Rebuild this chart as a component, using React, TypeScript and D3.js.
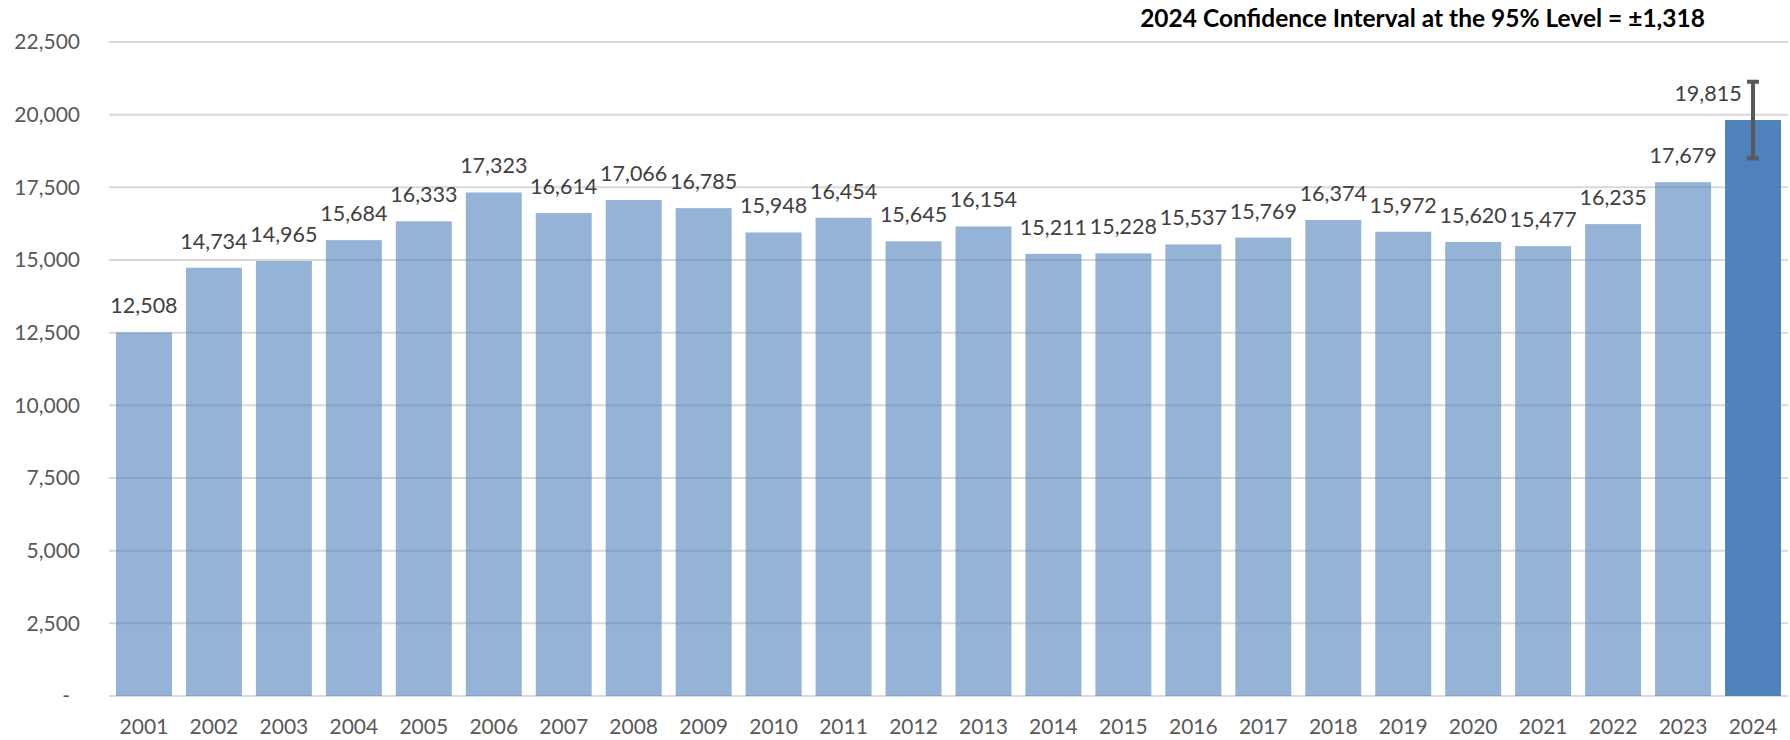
import React, { useRef, useEffect } from 'react';
import * as d3 from 'd3';

const years: string[] = [
  '2001', '2002', '2003', '2004', '2005', '2006', '2007', '2008', '2009', '2010', '2011', '2012',
  '2013', '2014', '2015', '2016', '2017', '2018', '2019', '2020', '2021', '2022', '2023', '2024',
];
const counts: number[] = [
  12508, 14734, 14965, 15684, 16333, 17323, 16614, 17066, 16785, 15948, 16454, 15645,
  16154, 15211, 15228, 15537, 15769, 16374, 15972, 15620, 15477, 16235, 17679, 19815,
];
const yTicks: number[] = [0, 2500, 5000, 7500, 10000, 12500, 15000, 17500, 20000, 22500];
const ciYear = '2024';
const ciHalfWidth = 1318;
const titleText = '2024 Confidence Interval at the 95% Level = \u00B11,318';

const W = 1790;
const H = 740;
const FONT = 'Lato, "Open Sans", sans-serif';

const App: React.FC = () => {
  const svgRef = useRef<SVGSVGElement | null>(null);

  useEffect(() => {
    document.body.style.margin = '0';
    const svg = d3.select(svgRef.current);
    svg.selectAll('*').remove();

    const left = 109;
    const right = 1788;
    const top = 42;
    const bottom = 696;

    const x = d3.scaleBand<string>().domain(years).range([left, right]).paddingInner(0.2).paddingOuter(0.1);
    const y = d3.scaleLinear().domain([0, 22500]).range([bottom, top]);
    const fmt = d3.format(',');

    // gridlines
    svg.append('g')
      .selectAll('line')
      .data(yTicks)
      .enter()
      .append('line')
      .attr('x1', left)
      .attr('x2', right)
      .attr('y1', d => y(d))
      .attr('y2', d => y(d))
      .attr('stroke', '#d9d9d9')
      .attr('stroke-width', 2);

    // y labels
    svg.append('g')
      .selectAll('text')
      .data(yTicks)
      .enter()
      .append('text')
      .attr('x', d => (d === 0 ? 70 : 80))
      .attr('y', d => y(d))
      .attr('dy', '0.35em')
      .attr('text-anchor', 'end')
      .attr('font-family', FONT)
      .attr('font-size', 21)
      .attr('fill', '#595959')
      .text(d => (d === 0 ? '-' : fmt(d)));

    // bars
    svg.append('g')
      .selectAll('rect')
      .data(counts)
      .enter()
      .append('rect')
      .attr('x', (_, i) => x(years[i]) as number)
      .attr('y', d => y(d))
      .attr('width', x.bandwidth())
      .attr('height', d => bottom - y(d))
      .attr('fill', '#4f81bd')
      .attr('fill-opacity', (_, i) => (years[i] === ciYear ? 1 : 0.6));

    // value labels
    svg.append('g')
      .selectAll('text')
      .data(counts)
      .enter()
      .append('text')
      .attr('x', (_, i) => (x(years[i]) as number) + x.bandwidth() / 2 + (years[i] === ciYear ? -45 : 0))
      .attr('y', d => y(d) - 19)
      .attr('text-anchor', 'middle')
      .attr('font-family', FONT)
      .attr('font-size', 21.5)
      .attr('fill', '#404040')
      .text(d => fmt(d));

    // error bar
    const ciIdx = years.indexOf(ciYear);
    const cx = (x(ciYear) as number) + x.bandwidth() / 2;
    const hi = y(counts[ciIdx] + ciHalfWidth);
    const lo = y(counts[ciIdx] - ciHalfWidth);
    const eb = svg.append('g').attr('stroke', '#595959').attr('stroke-width', 4);
    eb.append('line').attr('x1', cx).attr('x2', cx).attr('y1', hi).attr('y2', lo);
    eb.append('line').attr('x1', cx - 6).attr('x2', cx + 6).attr('y1', hi).attr('y2', hi);
    eb.append('line').attr('x1', cx - 6).attr('x2', cx + 6).attr('y1', lo).attr('y2', lo);

    // x labels
    svg.append('g')
      .selectAll('text')
      .data(years)
      .enter()
      .append('text')
      .attr('x', d => (x(d) as number) + x.bandwidth() / 2)
      .attr('y', 734)
      .attr('text-anchor', 'middle')
      .attr('font-family', FONT)
      .attr('font-size', 21)
      .attr('fill', '#595959')
      .text(d => d);

    // title
    svg.append('text')
      .attr('x', 1705)
      .attr('y', 27)
      .attr('text-anchor', 'end')
      .attr('font-family', FONT)
      .attr('font-size', 24.5)
      .attr('font-weight', 'bold')
      .attr('fill', '#000000')
      .text(titleText);
  }, []);

  return (
    <div>
      <svg ref={svgRef} width={W} height={H} style={{ display: 'block', background: '#fff' }}></svg>
    </div>
  );
};

export default App;
